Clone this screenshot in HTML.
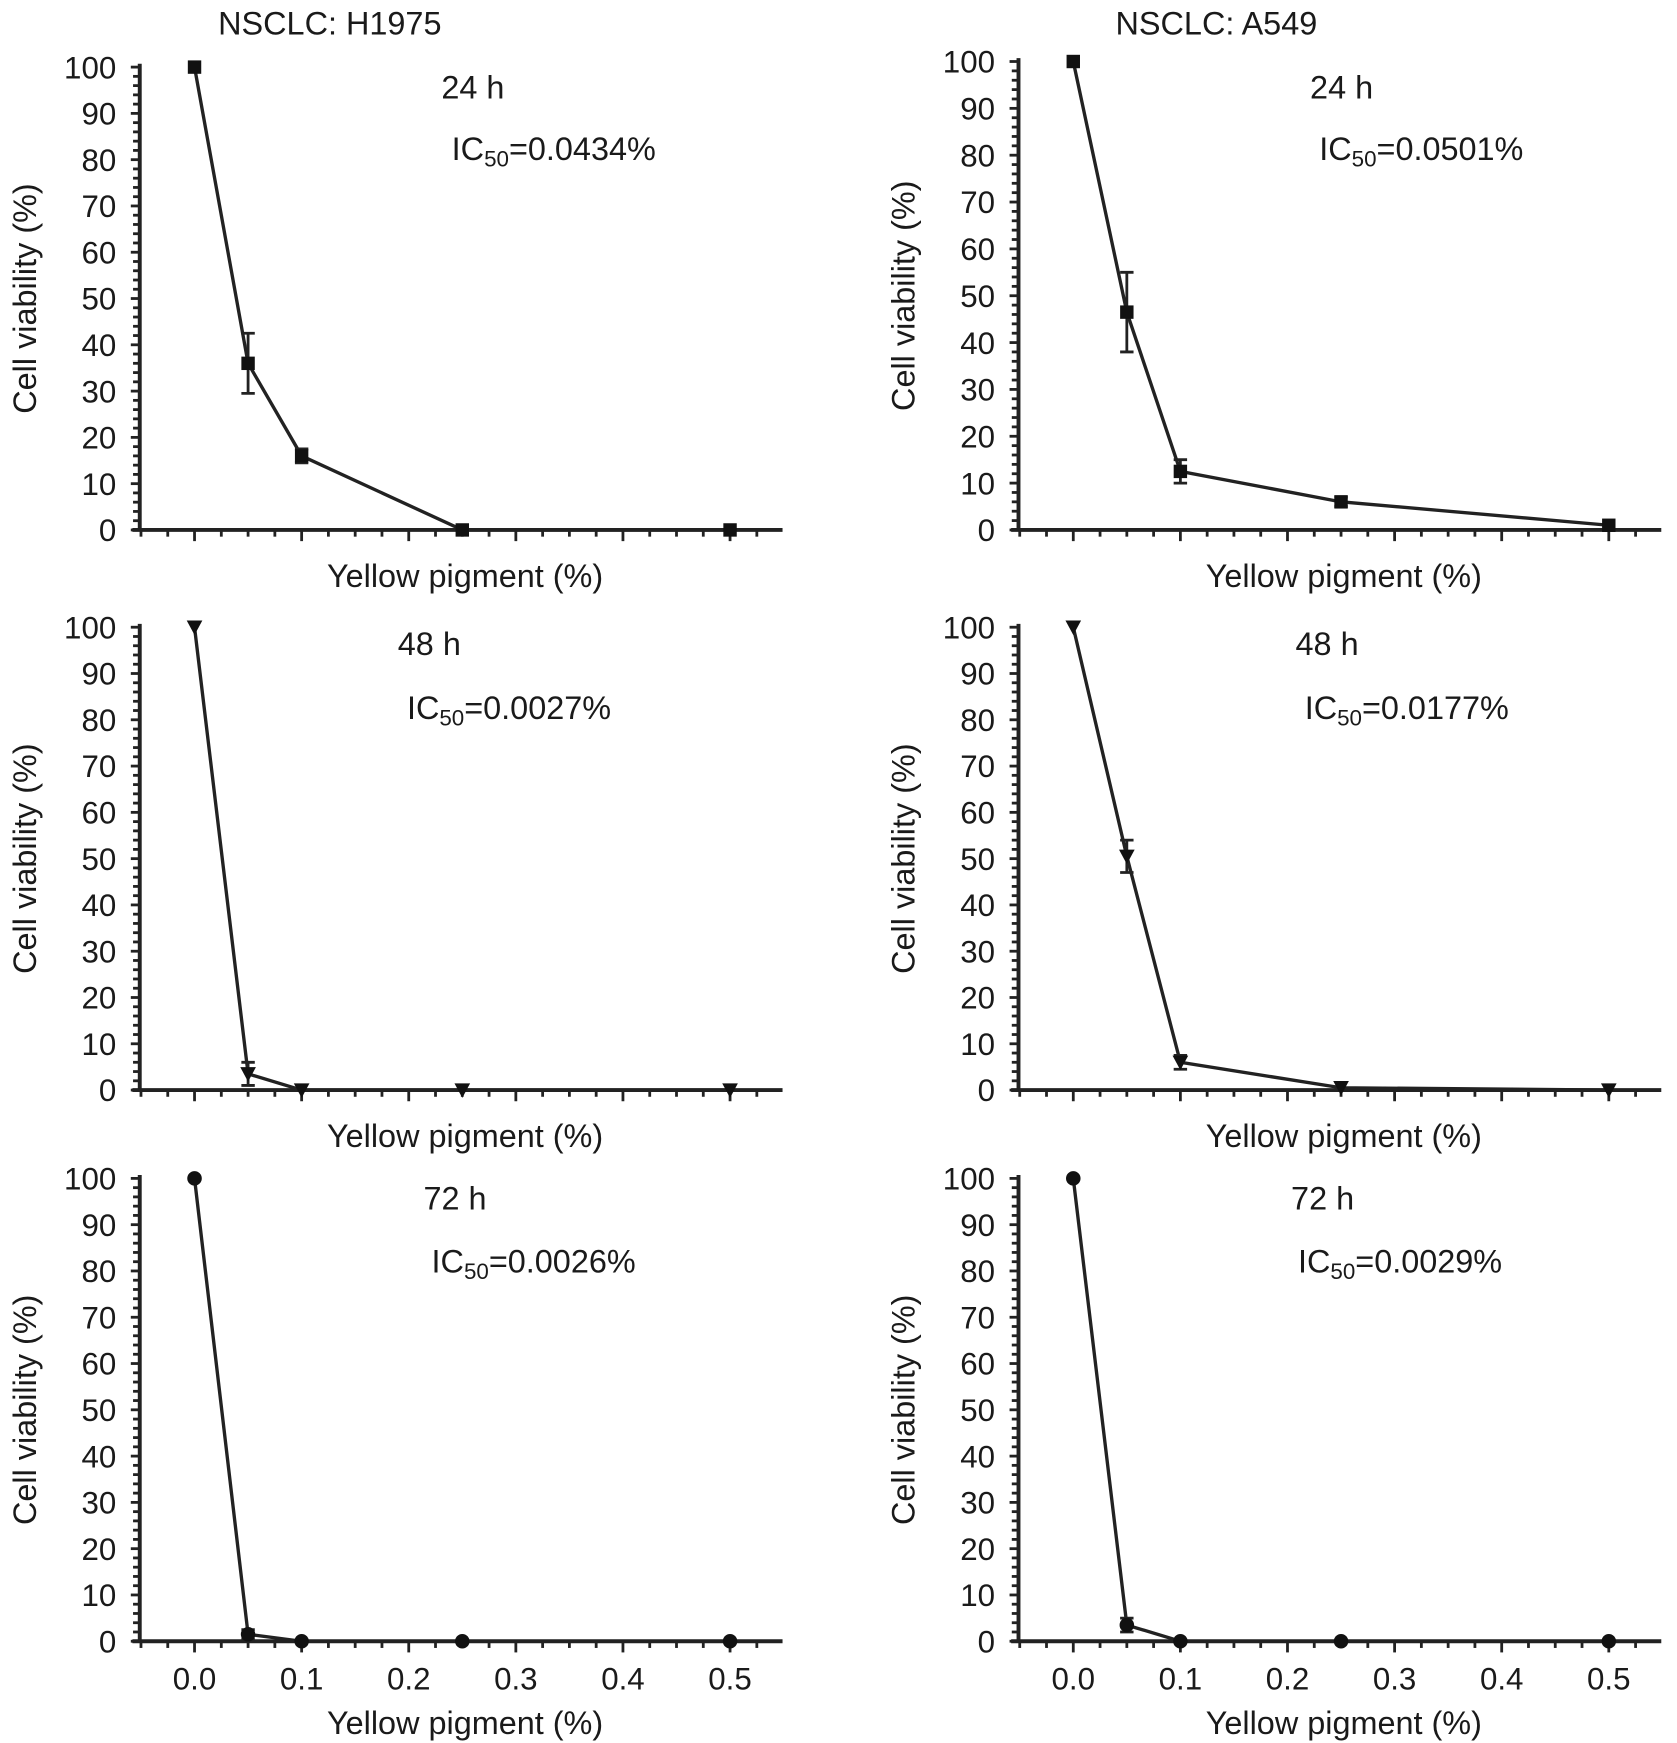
<!DOCTYPE html>
<html><head><meta charset="utf-8"><style>
html,body{margin:0;padding:0;background:#fff}
svg{display:block}
text{font-family:"Liberation Sans",Arial,sans-serif;fill:#1a1a1a}
</style></head><body>
<svg id="fig" width="1677" height="1743" viewBox="0 0 1500 1559" xmlns="http://www.w3.org/2000/svg"></svg>
<script>
const doses=[0,0.05,0.1,0.25,0.5];
const yTicks=[0,10,20,30,40,50,60,70,80,90,100];
const xTicks=[0,0.1,0.2,0.3,0.4,0.5];
const xTickLabels=["0.0","0.1","0.2","0.3","0.4","0.5"];
const h1975_24=[100,36,16,0,0];
const h1975_24_err=[0,6.5,1.5,0,0];
const a549_24=[100,46.5,12.5,6,1];
const a549_24_err=[0,8.5,2.5,1,0];
const h1975_48=[100,3.5,0,0,0];
const h1975_48_err=[0,2.5,0,0,0];
const a549_48=[100,50.5,6,0.5,0];
const a549_48_err=[0,3.5,1.5,0,0];
const h1975_72=[100,1.5,0,0,0];
const h1975_72_err=[0,1,0,0,0];
const a549_72=[100,3.5,0,0,0];
const a549_72_err=[0,1.5,0,0,0];

const NS="http://www.w3.org/2000/svg";
const svg=document.getElementById('fig');
function el(tag,attrs,parent){const e=document.createElementNS(NS,tag);for(const k in attrs)e.setAttribute(k,attrs[k]);(parent||svg).appendChild(e);return e;}

const panels=[
 {name:'h1975-24h',ax:125,x0:174,top:60,bot:474,vals:h1975_24,err:h1975_24_err,m:'square',time:'24 h',tx:423,ic:'0.0434%',icx:404,ty:78,icy:133,xl:false},
 {name:'a549-24h',ax:911,x0:960,top:55,bot:474,vals:a549_24,err:a549_24_err,m:'square',time:'24 h',tx:1200,ic:'0.0501%',icx:1180,ty:78,icy:133,xl:false},
 {name:'h1975-48h',ax:125,x0:174,top:561,bot:975,vals:h1975_48,err:h1975_48_err,m:'tri',time:'48 h',tx:384,ic:'0.0027%',icx:364,ty:576,icy:633,xl:false},
 {name:'a549-48h',ax:911,x0:960,top:561,bot:975,vals:a549_48,err:a549_48_err,m:'tri',time:'48 h',tx:1187,ic:'0.0177%',icx:1167,ty:576,icy:633,xl:false},
 {name:'h1975-72h',ax:125,x0:174,top:1054,bot:1468,vals:h1975_72,err:h1975_72_err,m:'circle',time:'72 h',tx:407,ic:'0.0026%',icx:386,ty:1072,icy:1128,xl:true},
 {name:'a549-72h',ax:911,x0:960,top:1054,bot:1468,vals:a549_72,err:a549_72_err,m:'circle',time:'72 h',tx:1183,ic:'0.0029%',icx:1161,ty:1072,icy:1128,xl:true}
];

let t;
t=el('text',{x:295,y:31,'text-anchor':'middle','font-size':29});t.textContent='NSCLC: H1975';


t=el('text',{x:1088,y:31,'text-anchor':'middle','font-size':29});t.textContent='NSCLC: A549';



panels.forEach(p=>{
 const g=el('g',{});
 
 
 const sx=v=>p.x0+v*958;
 const sy=v=>p.bot-(p.bot-p.top)*v/100;
 const xEnd=sx(0.549), xStart=sx(-0.058);
 const ya=el('line',{x1:p.ax,y1:p.top-3,x2:p.ax,y2:p.bot,stroke:'#222','stroke-width':3.5},g);
 
 
 const xa=el('line',{x1:xStart,y1:p.bot,x2:xEnd,y2:p.bot,stroke:'#222','stroke-width':3.5},g);
 
 
 for(let v=0;v<=100;v+=2){const major=v%10===0;el('line',{x1:p.ax-(major?8:6),y1:sy(v),x2:p.ax,y2:sy(v),stroke:'#222','stroke-width':2.5},g);}
 yTicks.forEach(v=>{const tl=el('text',{x:p.ax-21,y:sy(v)+10,'text-anchor':'end','font-size':28},g);tl.textContent=v;
  
  });
 for(let i=-2;i<=21;i++){const v=i*0.025;const major=i%4===0;el('line',{x1:sx(v),y1:p.bot,x2:sx(v),y2:p.bot+(major?10:6),stroke:'#222','stroke-width':2.5},g);}
 if(p.xl){xTicks.forEach((v,i)=>{const tl=el('text',{x:sx(v),y:p.bot+43,'text-anchor':'middle','font-size':28},g);tl.textContent=xTickLabels[i];
  
  });}
 const xt=el('text',{x:p.ax+291,y:p.bot+(p.xl?83:51),'text-anchor':'middle','font-size':29},g);xt.textContent='Yellow pigment (%)';
 
 
 const cy=(p.top+p.bot)/2;
 const yt=el('text',{x:0,y:0,'text-anchor':'middle','font-size':29,transform:`translate(${p.ax-93},${cy}) rotate(-90)`},g);yt.textContent='Cell viability (%)';
 
 
 const tt=el('text',{x:p.tx,y:p.ty+10,'text-anchor':'middle','font-size':29},g);tt.textContent=p.time;
 
 
 const ic=el('text',{x:p.icx,y:p.icy+10,'font-size':29},g);
 
 
 const s1=el('tspan',{},ic);s1.textContent='IC';
 const s2=el('tspan',{'font-size':20,dy:6},ic);s2.textContent='50';
 const s3=el('tspan',{dy:-6},ic);s3.textContent='='+p.ic;
 const pts=doses.map((d,i)=>sx(d)+','+sy(p.vals[i])).join(' ');
 const pl=el('polyline',{points:pts,fill:'none',stroke:'#222','stroke-width':3},g);
 
 
 doses.forEach((d,i)=>{
  const x=sx(d),y=sy(p.vals[i]),e=p.err[i];
  if(e>0){const hi=sy(p.vals[i]+e),lo=sy(p.vals[i]-e);
   const eb=el('path',{d:`M${x},${hi}V${lo}M${x-6},${hi}H${x+6}M${x-6},${lo}H${x+6}`,stroke:'#222','stroke-width':2.5,fill:'none'},g);
   
   }
  let mk;
  if(p.m==='square')mk=el('rect',{x:x-6,y:y-6,width:12,height:12,fill:'#111'},g);
  else if(p.m==='tri')mk=el('path',{d:`M${x-7},${y-6}H${x+7}L${x},${y+7}Z`,fill:'#111'},g);
  else mk=el('circle',{cx:x,cy:y,r:6.5,fill:'#111'},g);
  
  
 });
});
</script>
</body></html>
